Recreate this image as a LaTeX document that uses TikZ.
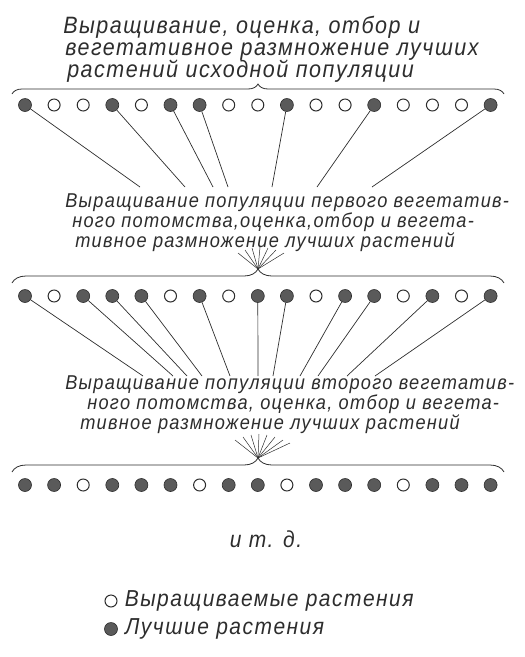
\documentclass[tikz,border=0pt]{standalone}
\usepackage{fontspec}
\usepackage{graphicx}
\newfontfamily\gost[LetterSpace=7]{Liberation Sans}
\newcommand{\tall}[1]{\scalebox{1}[1.1]{#1}}
\usetikzlibrary{positioning, decorations.pathreplacing}

\begin{document}
\begin{tikzpicture}[x=1pt, y=-1pt, line width=0.6pt]
    % Цвета
    \definecolor{ink}{RGB}{45, 45, 45}
    \definecolor{seed}{RGB}{90, 90, 90}

    \tikzset{
        grown/.style={circle, draw=ink, line width=1pt, fill=white, minimum size=12pt, inner sep=0pt},
        best/.style={circle, draw=ink, fill=seed, minimum size=13pt, inner sep=0pt},
        txtbig/.style={anchor=base west, inner sep=0pt, text=ink, font={\gost\itshape\fontsize{21.5}{22}\selectfont}},
        txt/.style={anchor=base west, inner sep=0pt, text=ink, font={\gost\itshape\fontsize{18.2}{20}\selectfont}},
        txtleg/.style={anchor=base west, inner sep=0pt, text=ink, font={\gost\itshape\fontsize{21}{22}\selectfont}},
        ray/.style={draw=ink, line width=0.7pt},
        bracket/.style={draw=ink, line width=0.8pt, decorate, decoration={brace, amplitude=#1}}
    }
    \useasboundingbox (0,0) rectangle (525,657);

    % 1. Текст над исходной популяцией
    \node[txtbig] (t1a) at (63,33) {\tall{Выращивание, оценка, отбор и}};
    \node[txtbig] (t1b) at (65,55) {\tall{вегетативное размножение лучших}};
    \node[txtbig] (t1c) at (67,77) {\tall{растений исходной популяции}};
    \draw[bracket=10pt] (12,94) -- (504,94);

    % 2. Исходная популяция
    \foreach \k [count=\i from 0] in {best,grown,grown,best,grown,best,best,grown,grown,best,grown,grown,best,grown,grown,grown,best}
        \node[\k] (p1-\i) at ({25+29.1*\i},105) {};

    % 3. Первое вегетативное потомство
    \node[txt] (t2a) at (65,207) {\tall{Выращивание популяции первого вегетатив-}};
    \node[txt] (t2b) at (72,227) {\tall{ного потомства,оценка,отбор и вегета-}};
    \node[txt] (t2c) at (75,247) {\tall{тивное размножение лучших растений}};
    \foreach \i/\ex in {0/140, 3/185, 5/213, 6/228, 9/272, 12/317, 16/372} {
        \coordinate (e1-\i) at (\ex,187);
        \draw[ray] (p1-\i) -- (e1-\i);
    }
    \coordinate (tip2) at (258,269);
    \foreach \ex/\ey [count=\j] in {238/253, 245/250, 252/248, 260/247, 268/248, 276/250, 284/253} {
        \coordinate (f2-\j) at (\ex,\ey);
        \draw[ray, line width=0.5pt] (tip2) -- (f2-\j);
    }
    \draw[bracket=14pt] (12,283) -- (504,283);
    \foreach \k [count=\i from 0] in {best,grown,best,best,best,grown,best,grown,best,best,grown,best,best,grown,best,grown,best}
        \node[\k] (p2-\i) at ({25+29.1*\i},296) {};

    % 4. Второе вегетативное потомство
    \node[txt] (t3a) at (65,389) {\tall{Выращивание популяции второго вегетатив-}};
    \node[txt] (t3b) at (87,409) {\tall{ного потомства, оценка, отбор и вегета-}};
    \node[txt] (t3c) at (80,429) {\tall{тивное размножение лучших растений}};
    \foreach \i/\ex in {0/143, 2/173, 3/187, 4/202, 6/230, 8/258, 9/273, 11/300, 12/318, 14/347, 16/375} {
        \coordinate (e2-\i) at (\ex,376);
        \draw[ray] (p2-\i) -- (e2-\i);
    }
    \coordinate (tip3) at (258,458);
    \foreach \ex/\ey [count=\j] in {235/440, 243/437, 251/435, 259/434, 267/435, 275/437, 283/440, 290/443} {
        \coordinate (f3-\j) at (\ex,\ey);
        \draw[ray, line width=0.5pt] (tip3) -- (f3-\j);
    }
    \draw[bracket=14pt] (12,472) -- (504,472);
    \foreach \k [count=\i from 0] in {best,best,grown,best,best,best,grown,best,best,grown,best,best,best,grown,best,best,best}
        \node[\k] (p3-\i) at ({25+29.1*\i},485) {};

    % 5. и т. д. и условные обозначения
    \node[txtleg, anchor=base] (etc) at (266,547) {\tall{и т. д.}};
    \node[grown] (lg1) at (111,601) {};
    \node[txtleg, right=7pt of lg1] (lt1) {\tall{Выращиваемые растения}};
    \node[best] (lg2) at (111,629) {};
    \node[txtleg, right=7pt of lg2] (lt2) {\tall{Лучшие растения}};
\end{tikzpicture}
\end{document}
